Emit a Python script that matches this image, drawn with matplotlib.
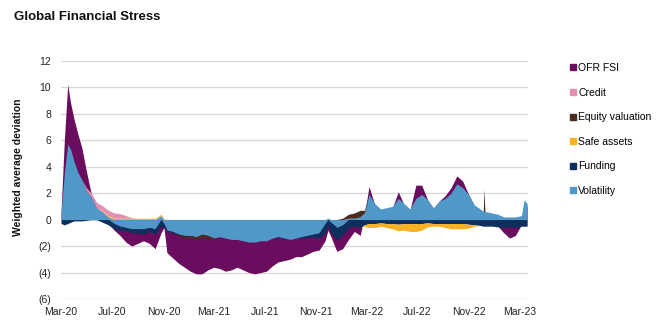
import matplotlib
matplotlib.use("Agg")
import matplotlib.pyplot as plt
from matplotlib.lines import Line2D
from matplotlib.ticker import FuncFormatter, MultipleLocator
import numpy as np
import pandas as pd

plt.rcParams['font.family'] = ['Liberation Sans', 'DejaVu Sans']

# Observation dates
dates = [
    "2020-03-01", "2020-03-09", "2020-03-17", "2020-03-24", "2020-04-01", "2020-04-10",
    "2020-04-20", "2020-05-01", "2020-05-12", "2020-05-25", "2020-06-08", "2020-06-22",
    "2020-07-06", "2020-07-20", "2020-08-03", "2020-08-17", "2020-08-31", "2020-09-14",
    "2020-09-28", "2020-10-12", "2020-10-26", "2020-11-02", "2020-11-09", "2020-11-23",
    "2020-12-07", "2020-12-21",
    "2021-01-04", "2021-01-18", "2021-02-01", "2021-02-15", "2021-03-01", "2021-03-15",
    "2021-03-29", "2021-04-12", "2021-04-26", "2021-05-10", "2021-05-24", "2021-06-07",
    "2021-06-21", "2021-07-05", "2021-07-19", "2021-08-02", "2021-08-16", "2021-08-30",
    "2021-09-13", "2021-09-27", "2021-10-11", "2021-10-25", "2021-11-08", "2021-11-22",
    "2021-11-29", "2021-12-06", "2021-12-20",
    "2022-01-03", "2022-01-17", "2022-01-31", "2022-02-14", "2022-02-24", "2022-03-07",
    "2022-03-21", "2022-04-04", "2022-04-18", "2022-05-02", "2022-05-16", "2022-05-30",
    "2022-06-13", "2022-06-27", "2022-07-11", "2022-07-25", "2022-08-08", "2022-08-22",
    "2022-09-05", "2022-09-19", "2022-10-03", "2022-10-17", "2022-10-31", "2022-11-14",
    "2022-11-28", "2022-12-05", "2022-12-07", "2022-12-09", "2022-12-12", "2022-12-26",
    "2023-01-09", "2023-01-23", "2023-02-06", "2023-02-20", "2023-03-06", "2023-03-13",
    "2023-03-20",
]

ofr_fsi = [
    0.5, 6.0, 10.2, 8.8, 7.6, 6.5, 5.4, 3.6, 2.0, 0.9, 0.4, -0.3, -0.8, -1.2, -1.7, -2.0,
    -1.8, -1.6, -1.8, -2.2, -1.0, -0.6, -2.5, -2.9, -3.3, -3.6,
    -3.9, -4.1, -4.1, -3.8, -3.6, -3.7, -3.9, -3.8, -3.6, -3.8, -4.0, -4.1, -4.0, -3.9,
    -3.5, -3.2, -3.1, -3.0, -2.8, -2.8, -2.6, -2.4, -2.3, -1.6, -0.8, -1.3, -2.4,
    -2.2, -1.5, -0.9, -1.2, 0.3, 2.5, 1.1, 0.7, 0.8, 0.9, 2.1, 1.1, 0.7, 2.6, 2.6, 1.5,
    0.8, 1.4, 1.8, 2.4, 3.3, 2.9, 1.9, 1.0, 0.7, 0.5, 0.5, 0.5, 0.5, 0.4,
    -0.5, -1.0, -1.4, -1.2, -0.4, 0.9, 1.0,
]

credit = [
    0, 0, 0, 0, 0, 0, 0, 0.2, 0.3, 0.4, 0.4, 0.4, 0.4, 0.35, 0.2, 0.05, 0, 0, 0, 0,
    0, 0, 0, 0, 0, 0,
    0, 0, 0, 0, 0, 0, 0, 0, 0, 0, 0, 0, 0, 0, 0, 0, 0, 0, 0, 0, 0, 0, 0, 0, 0, 0, 0,
    0, 0, 0, 0, 0, 0, 0, 0, 0, 0, 0, 0, 0, 0, 0, 0, 0, 0, 0, 0, 0, 0, 0, 0, 0, 0, 0, 0,
    0, 0,
    0, 0, 0, 0, 0, 0, 0,
]

equity_valuation = [
    0, 0, 0, 0, 0, 0, 0, 0, 0, 0, 0, 0, 0, 0, 0, 0, 0, 0, 0, 0, 0, 0, 0, 0, -0.1, -0.15,
    -0.15, -0.2, -0.25, -0.2, -0.1, 0, 0, 0, 0, 0, 0, 0, 0, 0, 0, 0, 0, 0, 0, 0, 0, 0,
    0, 0, 0, 0, 0,
    0.1, 0.3, 0.4, 0.5, 0.2, 0, 0, 0, 0, 0, 0, 0, 0, 0, 0, 0, 0, 0, 0, 0, 0, 0, 0, 0,
    0, 0, 1.7, 0, 0, 0,
    0, 0, 0, 0, 0, 0, 0,
]

safe_assets = [
    0, 0, 0, 0, 0, 0, 0, 0, 0, 0, 0.05, 0.1, 0.1, 0.1, 0.1, 0.1, 0.1, 0.1, 0.1, 0.1, 0.1,
    0.05, 0, 0, 0, 0,
    0, 0, 0, 0, 0, 0, 0, 0, 0, 0, 0, 0, 0, 0, 0, 0, 0, 0, 0, 0, 0, 0, 0, 0, 0, 0, 0,
    0, 0, 0, 0, -0.1, -0.3, -0.3, -0.25, -0.3, -0.4, -0.5, -0.5, -0.6, -0.6, -0.5, -0.3,
    -0.2, -0.2, -0.3, -0.4, -0.4, -0.4, -0.3, -0.1, 0, 0, 0, 0, 0, 0,
    0, 0, 0, 0, 0, 0, 0,
]

funding = [
    -0.3, -0.4, -0.3, -0.2, -0.1, -0.1, -0.1, -0.05, 0, 0, -0.2, -0.4, -0.4, -0.3, -0.2,
    -0.3, -0.3, -0.4, -0.3, -0.4, -0.5, -0.3, -0.1, -0.1, -0.05, -0.05,
    0, 0, 0, 0, 0, 0, 0, 0, 0, 0, 0, 0, 0, 0, 0, -0.05, -0.05, 0, 0, -0.1, -0.15, -0.2,
    -0.4, -0.7, -0.5, -0.8, -0.9,
    -0.8, -0.6, -0.5, -0.6, -0.4, -0.3, -0.3, -0.25, -0.3, -0.3, -0.35, -0.3, -0.3, -0.3,
    -0.3, -0.25, -0.3, -0.3, -0.3, -0.3, -0.3, -0.3, -0.35, -0.4, -0.45, -0.5, -0.5,
    -0.5, -0.5, -0.5,
    -0.55, -0.6, -0.55, -0.6, -0.5, -0.5, -0.5,
]

volatility = [
    0.5, 3.5, 5.7, 5.3, 4.4, 3.6, 3.0, 2.2, 1.7, 0.9, 0.6, 0.2, -0.3, -0.5, -0.6, -0.7,
    -0.7, -0.7, -0.6, -0.7, 0.3, -0.3, -0.8, -0.9, -1.1, -1.2,
    -1.2, -1.3, -1.1, -1.2, -1.4, -1.3, -1.4, -1.5, -1.5, -1.6, -1.7, -1.7, -1.6, -1.6,
    -1.4, -1.3, -1.4, -1.5, -1.4, -1.3, -1.2, -1.1, -1.0, -0.3, 0.1, -0.2, -0.6,
    -0.4, 0.1, 0.1, 0.2, 0.5, 1.9, 1.2, 0.8, 0.9, 1.0, 1.6, 1.2, 0.8, 1.6, 1.9, 1.5, 0.9,
    1.4, 1.6, 2.0, 2.7, 2.4, 1.9, 1.1, 0.8, 0.6, 0.6, 0.6, 0.6, 0.5,
    0.4, 0.2, 0.2, 0.2, 0.3, 1.5, 1.2,
]

tick_labels = ["Mar-20", "Jul-20", "Nov-20", "Mar-21", "Jul-21", "Nov-21",
               "Mar-22", "Jul-22", "Nov-22", "Mar-23"]

colors = {
    "OFR FSI": "#6a0d5f",
    "Credit": "#e58fb4",
    "Equity valuation": "#4b2a20",
    "Safe assets": "#f6b224",
    "Funding": "#0c2f5c",
    "Volatility": "#5098c8",
}

x = pd.to_datetime(dates)

fig = plt.figure(figsize=(6.6, 3.32), dpi=100)
ax = fig.add_axes([61 / 660, 1 - 299 / 332, (528 - 61) / 660, (299 - 60.7) / 332])

# Headline index drawn from zero
fsi = np.array(ofr_fsi, dtype=float)
ax.fill_between(x, 0, fsi, color=colors["OFR FSI"], lw=0, zorder=2)

# Components stacked outward from zero, positives up and negatives down
components = [
    ("Volatility", volatility),
    ("Funding", funding),
    ("Safe assets", safe_assets),
    ("Equity valuation", equity_valuation),
    ("Credit", credit),
]
pos_base = np.zeros(len(x))
neg_base = np.zeros(len(x))
for name, vals in components:
    v = np.array(vals, dtype=float)
    p = np.clip(v, 0, None)
    n = np.clip(v, None, 0)
    c = colors[name]
    if p.any():
        ax.fill_between(x, pos_base, pos_base + p, color=c, lw=0, zorder=3)
    if n.any():
        ax.fill_between(x, neg_base, neg_base + n, color=c, lw=0, zorder=3)
    pos_base = pos_base + p
    neg_base = neg_base + n

ax.set_ylim(-6, 12)
ax.set_xlim(pd.Timestamp("2020-03-01"), pd.Timestamp("2023-03-22"))
ax.yaxis.set_major_locator(MultipleLocator(2))
ax.yaxis.set_major_formatter(FuncFormatter(
    lambda v, _: f"({abs(int(round(v)))})" if v < 0 else f"{int(round(v))}"))

tick_pos = pd.date_range("2020-03-01", "2023-03-01", freq="4MS")
ax.set_xticks(tick_pos)
ax.set_xticklabels(tick_labels)

ax.grid(axis="y", color="#d9d9d9", lw=1.0, zorder=0)
ax.set_axisbelow(True)
for s in ax.spines.values():
    s.set_visible(False)
ax.tick_params(axis="both", length=0, labelsize=7.5, colors="#222222")
ax.tick_params(axis="y", pad=7)
ax.tick_params(axis="x", pad=5.5)

fig.text(18 / 660, 1 - 167 / 332, "Weighted average deviation", rotation=90,
         ha="center", va="center", fontsize=7.5, fontweight="bold", color="#111111")
fig.text(14 / 660, 1 - 17 / 332, "Global Financial Stress", ha="left", va="center",
         fontsize=9.5, fontweight="bold", color="#111111")

legend_order = ["OFR FSI", "Credit", "Equity valuation", "Safe assets", "Funding", "Volatility"]
handles = [Line2D([], [], marker="s", linestyle="", color=colors[k], markersize=4.2)
           for k in legend_order]
fig.legend(handles, legend_order, loc="upper left", bbox_to_anchor=(570 / 660, 1 - 63 / 332),
           frameon=False, fontsize=7.5, handlelength=0.6, handletextpad=0.2,
           labelspacing=1.4, borderaxespad=0, borderpad=0)

fig.savefig("out.png", dpi=100)
